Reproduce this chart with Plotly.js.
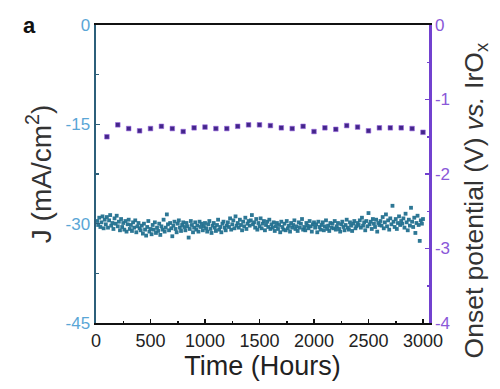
<!DOCTYPE html>
<html>
<head>
<meta charset="utf-8">
<script src="https://cdn.plot.ly/plotly-3.0.1.min.js"></script>
<style>html,body{margin:0;padding:0;background:#fff;}#chart{width:500px;height:389px;}</style>
</head>
<body>
<div id="chart"></div>
<script>
// Current density J (mA/cm^2), sampled every 10 hours from 10 h to 3000 h
const jStartHour = 10;
const jStepHours = 10;
const jValues = [
 -29.6,-30.2,-29.1,-30.5,-29.8,-28.9,-30.7,-29.4,-30.1,-29.0,-30.6,-29.5,-28.7,-30.3,-29.9,-30.8,-29.2,-30.0,-28.8,-30.4,
 -29.7,-31.0,-29.3,-30.5,-29.9,-30.9,-29.6,-31.2,-30.1,-29.4,-30.8,-30.2,-31.1,-29.8,-30.6,-29.5,-31.3,-30.4,-29.9,-30.7,
 -31.0,-30.3,-31.5,-30.0,-30.9,-31.8,-30.5,-29.6,-31.2,-30.8,-31.6,-30.2,-30.9,-29.8,-31.4,-30.6,-31.1,-30.0,-31.7,-30.4,
 -30.9,-29.4,-31.2,-30.6,-28.6,-30.1,-31.0,-29.9,-30.7,-31.9,-30.3,-29.7,-30.8,-31.3,-30.0,-29.5,-30.6,-31.1,-30.2,-29.8,
 -30.5,-31.0,-29.9,-30.4,-32.1,-30.8,-29.6,-30.2,-31.3,-30.6,-29.8,-30.9,-30.3,-31.2,-29.7,-30.5,-30.0,-31.0,-30.4,-29.9,
 -30.7,-31.2,-30.1,-29.6,-30.8,-31.4,-30.3,-29.9,-30.6,-31.1,-30.2,-29.4,-30.9,-30.5,-31.3,-30.0,-29.7,-30.6,-31.0,-30.3,
 -29.8,-30.5,-29.2,-30.9,-30.1,-29.5,-30.7,-28.9,-30.3,-29.9,-30.6,-29.4,-30.2,-31.0,-29.7,-30.4,-29.1,-30.8,-30.0,-29.6,
 -30.3,-29.5,-28.7,-30.1,-29.8,-30.6,-29.3,-30.9,-29.9,-30.4,-29.2,-30.7,-30.0,-29.6,-31.0,-30.2,-29.7,-30.5,-29.4,-30.8,
 -30.1,-30.6,-29.8,-31.1,-30.4,-29.9,-30.8,-30.2,-31.3,-29.7,-30.5,-30.9,-30.0,-31.0,-29.6,-30.7,-30.3,-31.2,-29.9,-30.6,
 -30.2,-29.5,-30.8,-30.4,-31.1,-29.8,-30.6,-30.0,-29.3,-30.9,-30.5,-31.0,-29.9,-30.3,-30.7,-29.6,-30.4,-31.2,-30.1,-29.8,
 -30.6,-30.1,-31.3,-29.7,-30.5,-30.9,-30.2,-29.8,-31.0,-30.4,-29.5,-30.8,-30.3,-31.1,-29.9,-30.6,-30.0,-30.7,-29.6,-30.9,
 -30.4,-29.9,-30.8,-31.2,-30.1,-29.7,-30.5,-31.0,-30.2,-29.4,-30.6,-30.9,-29.8,-30.3,-31.1,-30.0,-29.6,-30.7,-30.4,-29.9,
 -30.2,-29.5,-30.6,-29.1,-30.3,-29.8,-31.0,-29.6,-30.4,-28.4,-30.1,-29.7,-30.8,-29.3,-30.0,-30.5,-29.4,-31.2,-29.9,-30.2,
 -29.6,-30.3,-29.0,-30.7,-29.8,-28.6,-30.4,-29.5,-30.9,-29.2,-30.1,-27.3,-29.7,-30.5,-29.3,-30.8,-29.9,-28.9,-30.2,-29.6,
 -30.0,-29.2,-30.6,-28.5,-29.8,-31.0,-29.4,-30.3,-27.6,-29.7,-30.5,-29.1,-31.4,-29.9,-28.8,-30.2,-32.6,-29.5,-30.0,-29.3
];
const jHours = jValues.map((v, i) => jStartHour + i * jStepHours);

// Onset potential (V vs. IrOx), every 100 hours
const onsetHours = [100,200,300,400,500,600,700,800,900,1000,1100,1200,1300,1400,1500,
                    1600,1700,1800,1900,2000,2100,2200,2300,2400,2500,2600,2700,2800,2900,3000];
const onsetValues = [-1.50,-1.34,-1.39,-1.42,-1.39,-1.36,-1.39,-1.43,-1.38,-1.37,-1.39,-1.39,-1.36,-1.34,-1.34,
                     -1.35,-1.38,-1.39,-1.36,-1.43,-1.38,-1.40,-1.35,-1.37,-1.42,-1.38,-1.38,-1.38,-1.39,-1.44];

const xTickVals = [0,500,1000,1500,2000,2500,3000];
const yTickVals = [0,-15,-30,-45];
const y2TickVals = [0,-1,-2,-3,-4];

const FONT = 'Arial, "Liberation Sans", sans-serif';
const leftColor = '#2c5f7a';
const leftLabel = '#5aa6d6';
const rightColor = '#7241cf';
const rightLabel = '#8a58d8';

const traces = [
  {
    x: jHours, y: jValues, type: 'scatter', mode: 'markers',
    marker: {symbol: 'square', size: 3.8, color: '#22708f', opacity: 0.95},
    xaxis: 'x', yaxis: 'y', hoverinfo: 'skip', showlegend: false
  },
  {
    x: onsetHours, y: onsetValues, type: 'scatter', mode: 'markers',
    marker: {symbol: 'square', size: 4.6, color: '#43268a', line: {color: '#9a66e0', width: 0.6}},
    xaxis: 'x', yaxis: 'y2', hoverinfo: 'skip', showlegend: false
  }
];

const layout = {
  width: 500, height: 389,
  margin: {l: 95.5, r: 71, t: 25, b: 66, pad: 0},
  paper_bgcolor: '#ffffff', plot_bgcolor: '#ffffff',
  font: {family: FONT, color: '#222'},
  showlegend: false,
  xaxis: {
    range: [0, 3055], tickvals: xTickVals, ticktext: xTickVals.map(String),
    ticks: 'inside', ticklen: 4, tickwidth: 1.5, tickcolor: '#111',
    minor: {dtick: 250, tick0: 0, ticks: 'inside', ticklen: 2.5, tickcolor: '#111'},
    showline: true, linecolor: '#111', linewidth: 2, mirror: true,
    showgrid: false, zeroline: false,
    tickfont: {size: 18, color: '#222', family: FONT},
    title: {text: 'Time (Hours)', font: {size: 27, color: '#222', family: FONT}, standoff: 2}
  },
  yaxis: {
    range: [-45, 0], tickvals: yTickVals, ticktext: yTickVals.map(String),
    ticks: 'inside', ticklen: 4, tickwidth: 1.5, tickcolor: leftColor,
    minor: {dtick: 7.5, tick0: 0, ticks: 'inside', ticklen: 2.5, tickcolor: leftColor},
    showline: true, linecolor: leftColor, linewidth: 2.5,
    showgrid: false, zeroline: false,
    tickfont: {size: 17, color: leftLabel, family: FONT},
    ticklabelstandoff: 0,
    title: {text: 'J (mA/cm<sup>2</sup>)', font: {size: 28, color: '#333', family: FONT}, standoff: 6}
  },
  yaxis2: {
    overlaying: 'y', side: 'right', anchor: 'x',
    range: [-4, 0], tickvals: y2TickVals, ticktext: y2TickVals.map(String),
    ticks: 'inside', ticklen: 4, tickwidth: 1.5, tickcolor: rightColor,
    minor: {dtick: 0.5, tick0: 0, ticks: 'inside', ticklen: 2.5, tickcolor: rightColor},
    showline: true, linecolor: rightColor, linewidth: 2.5,
    showgrid: false, zeroline: false,
    tickfont: {size: 17, color: rightLabel, family: FONT},
    ticklabelstandoff: 0
  },
  annotations: [
    {text: '<b>a</b>', xref: 'paper', yref: 'paper', x: -0.2, y: 1.0, xanchor: 'center', yanchor: 'middle',
     showarrow: false, font: {size: 22, color: '#111', family: FONT}},
    {text: 'Onset potential (V) <i>vs.</i> IrO<sub>x</sub>', xref: 'paper', yref: 'paper',
     x: 1.14, y: 0.41, xanchor: 'center', yanchor: 'middle', textangle: -90,
     showarrow: false, font: {size: 26.5, color: '#333', family: FONT}}
  ]
};

Plotly.newPlot('chart', traces, layout, {staticPlot: true, displayModeBar: false});
</script>
</body>
</html>
